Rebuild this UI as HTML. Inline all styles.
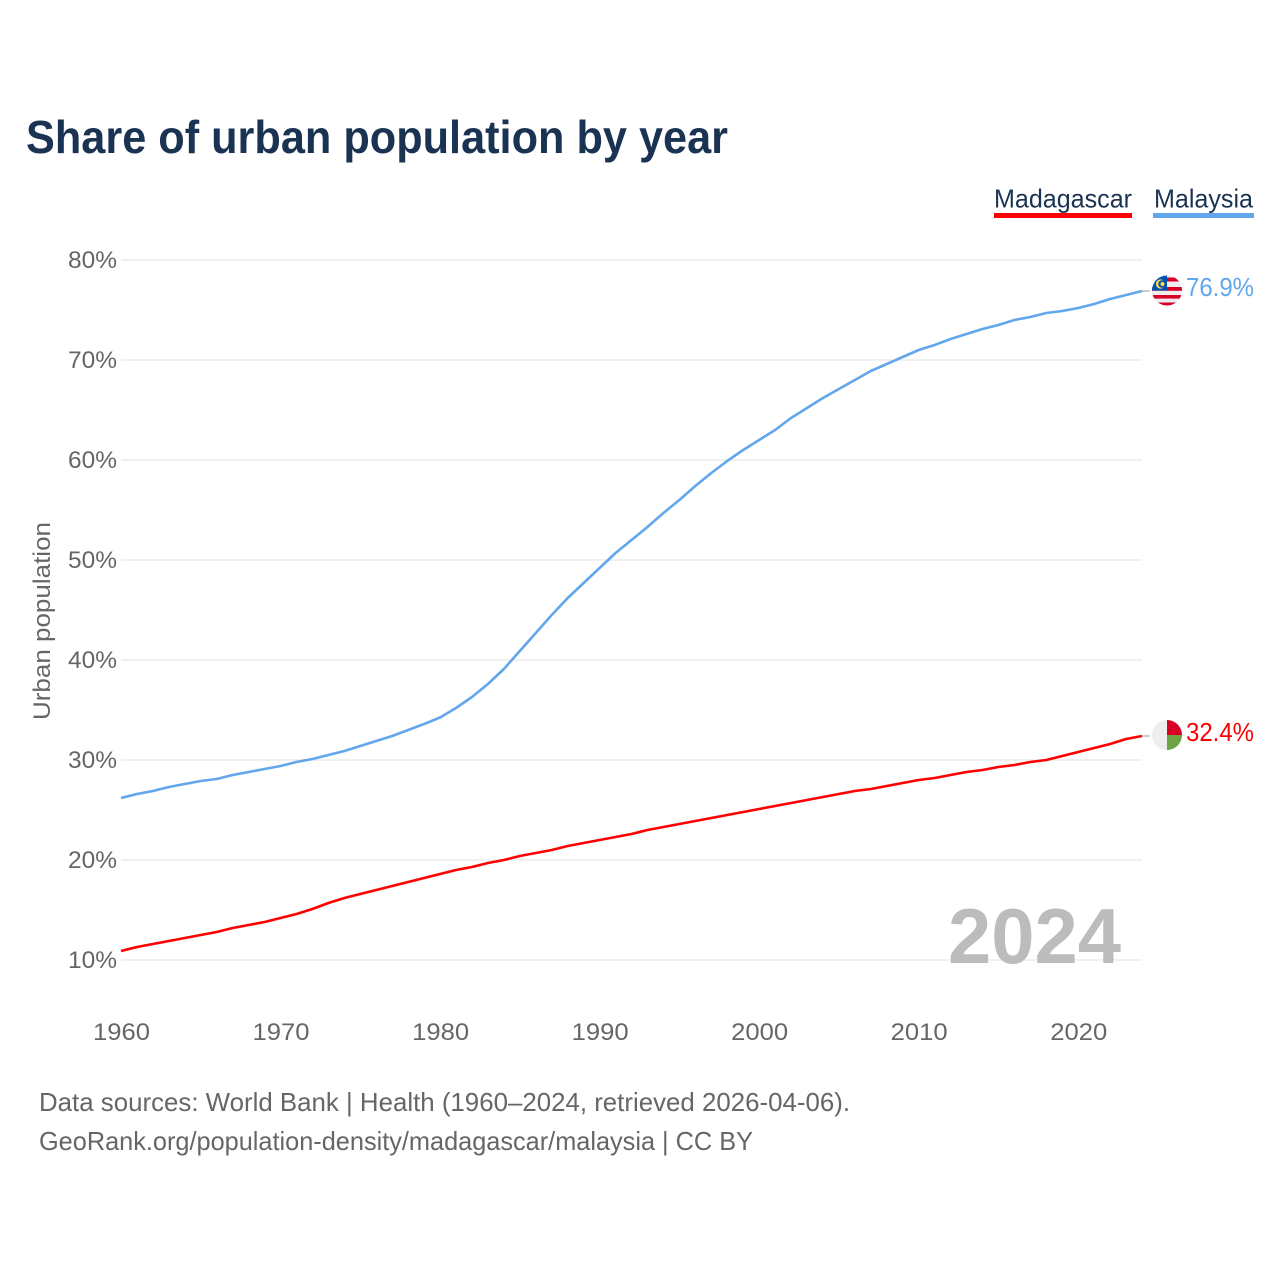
<!DOCTYPE html>
<html lang="en">
<head>
<meta charset="utf-8">
<title>Share of urban population by year</title>
<style>
html,body{margin:0;padding:0;background:#fff;}
svg{display:block;font-family:"Liberation Sans",sans-serif;}
</style>
</head>
<body>
<svg id="chart" width="1280" height="1280" viewBox="0 0 1280 1280" xmlns="http://www.w3.org/2000/svg">
  <rect width="1280" height="1280" fill="#fff"/>
  <text x="26" y="153" font-size="46" font-weight="700" fill="#1a3352" textLength="702" lengthAdjust="spacingAndGlyphs">Share of urban population by year</text>

  <g>
    <text x="994" y="207.5" font-size="26" fill="#1a3352" textLength="138" lengthAdjust="spacingAndGlyphs">Madagascar</text>
    <rect x="994" y="213" width="138" height="5" fill="#ff0000"/>
  </g>
  <g>
    <text x="1154" y="207.5" font-size="26" fill="#1a3352" textLength="99" lengthAdjust="spacingAndGlyphs">Malaysia</text>
    <rect x="1153" y="213" width="101" height="5" fill="#62a6ec"/>
  </g>

  <g id="grid"></g>
  <g id="yticks"></g>
  <g id="xticks"></g>

  <text transform="translate(50,621) rotate(-90)" text-anchor="middle" font-size="24" fill="#666" textLength="198" lengthAdjust="spacingAndGlyphs">Urban population</text>

  <text x="948" y="963" font-size="78" font-weight="700" fill="#bcbcbc" textLength="173" lengthAdjust="spacingAndGlyphs">2024</text>

  <g id="series"></g>

  <defs>
    <clipPath id="clip-my"><circle cx="1167" cy="290.5" r="15"/></clipPath>
    <clipPath id="clip-mg"><circle cx="1167" cy="735" r="15"/></clipPath>
  </defs>

  <g clip-path="url(#clip-my)">
    <rect x="1152" y="275" width="30" height="31" fill="#eeeeee"/>
    <rect x="1152" y="277.5" width="30" height="4" fill="#d80027"/>
    <rect x="1152" y="287" width="30" height="3.8" fill="#d80027"/>
    <rect x="1152" y="295" width="30" height="3.6" fill="#d80027"/>
    <rect x="1152" y="302.5" width="30" height="4" fill="#d80027"/>
    <rect x="1152" y="275" width="15" height="15.5" fill="#0052b4"/>
    <circle cx="1160.5" cy="284" r="4.6" fill="#ffda44"/>
    <circle cx="1162" cy="284" r="3.8" fill="#0052b4"/>
    <circle cx="1162.5" cy="284" r="2" fill="#ffda44"/>
  </g>
  <g clip-path="url(#clip-mg)">
    <rect x="1152" y="720" width="15" height="30" fill="#eeeeee"/>
    <rect x="1167" y="720" width="15" height="15" fill="#d80027"/>
    <rect x="1167" y="735" width="15" height="15" fill="#6da544"/>
  </g>

  <text x="1186" y="296" font-size="26" fill="#62a6ec" textLength="68" lengthAdjust="spacingAndGlyphs">76.9%</text>
  <text x="1186" y="741" font-size="26" fill="#ff0000" textLength="68" lengthAdjust="spacingAndGlyphs">32.4%</text>

  <text x="39" y="1111" font-size="26" fill="#666" textLength="811" lengthAdjust="spacingAndGlyphs">Data sources: World Bank | Health (1960–2024, retrieved 2026-04-06).</text>
  <text x="39" y="1150" font-size="26" fill="#666" textLength="714" lengthAdjust="spacingAndGlyphs">GeoRank.org/population-density/madagascar/malaysia | CC BY</text>
</svg>

<script>
const startYear = 1960;
const endYear = 2024;
const yTickValues = [10, 20, 30, 40, 50, 60, 70, 80];
const yTickLabels = ["10%", "20%", "30%", "40%", "50%", "60%", "70%", "80%"];
const xTickValues = [1960, 1970, 1980, 1990, 2000, 2010, 2020];
const xTickLabels = ["1960", "1970", "1980", "1990", "2000", "2010", "2020"];
const malaysiaValues = [26.2,26.6,26.9,27.3,27.6,27.9,28.1,28.5,28.8,29.1,29.4,29.8,30.1,30.5,30.9,31.4,31.9,32.4,33.0,33.6,34.25,35.2,36.3,37.6,39.1,40.9,42.7,44.5,46.2,47.7,49.2,50.7,52.0,53.3,54.7,56.0,57.4,58.7,59.9,61.0,62.0,63.0,64.2,65.2,66.2,67.1,68.0,68.9,69.6,70.3,71.0,71.5,72.1,72.6,73.1,73.5,74.0,74.3,74.7,74.9,75.2,75.6,76.1,76.5,76.9];
const madagascarValues = [10.9,11.3,11.6,11.9,12.2,12.5,12.8,13.2,13.5,13.8,14.2,14.6,15.1,15.7,16.2,16.6,17.0,17.4,17.8,18.2,18.6,19.0,19.3,19.7,20.0,20.4,20.7,21.0,21.4,21.7,22.0,22.3,22.6,23.0,23.3,23.6,23.9,24.2,24.5,24.8,25.1,25.4,25.7,26.0,26.3,26.6,26.9,27.1,27.4,27.7,28.0,28.2,28.5,28.8,29.0,29.3,29.5,29.8,30.0,30.4,30.8,31.2,31.6,32.1,32.4];

const NS = "http://www.w3.org/2000/svg";
const xLeft = 121, xRight = 1142;
const yScale = v => 960 - (v - 10) * 10;
const xScale = yr => xLeft + (yr - startYear) * (xRight - xLeft) / (endYear - startYear);

function make(tag, attrs, parent, text) {
  const el = document.createElementNS(NS, tag);
  for (const k in attrs) el.setAttribute(k, attrs[k]);
  if (text !== undefined) el.textContent = text;
  parent.appendChild(el);
  return el;
}

const grid = document.getElementById("grid");
const yticks = document.getElementById("yticks");
const xticks = document.getElementById("xticks");
const series = document.getElementById("series");

yTickValues.forEach((v, i) => {
  const line = make("line", {x1: xLeft, x2: xRight, y1: yScale(v), y2: yScale(v), stroke: "#ececec", "stroke-width": 1.6}, grid);
  
  
  const t = make("text", {x: 117, y: yScale(v) + 8, "text-anchor": "end", "font-size": 24, fill: "#666", textLength: 49, lengthAdjust: "spacingAndGlyphs"}, yticks, yTickLabels[i]);
  
  
});

xTickValues.forEach((yr, i) => {
  const t = make("text", {x: xScale(yr) + 0.5, y: 1040, "text-anchor": "middle", "font-size": 24, fill: "#666", textLength: 57, lengthAdjust: "spacingAndGlyphs"}, xticks, xTickLabels[i]);
  
  
});

function drawSeries(values, color) {
  const step = (endYear - startYear) / (values.length - 1);
  const pts = values.map((v, i) => xScale(startYear + i * step).toFixed(2) + "," + yScale(v).toFixed(2)).join(" ");
  return make("polyline", {points: pts, fill: "none", stroke: color, "stroke-width": 2.6, "stroke-linejoin": "round"}, series);
}

const malaysiaLine = drawSeries(malaysiaValues, "#62a6ec");


const madagascarLine = drawSeries(madagascarValues, "#ff0000");



const connectorMalaysia = make("line", {x1: xRight, x2: 1150, y1: yScale(malaysiaValues[malaysiaValues.length - 1]), y2: yScale(malaysiaValues[malaysiaValues.length - 1]), stroke: "#9a9a9a", "stroke-width": 1}, series);


const connectorMadagascar = make("line", {x1: xRight, x2: 1150, y1: yScale(madagascarValues[madagascarValues.length - 1]), y2: yScale(madagascarValues[madagascarValues.length - 1]), stroke: "#9a9a9a", "stroke-width": 1}, series);


</script>
</body>
</html>
